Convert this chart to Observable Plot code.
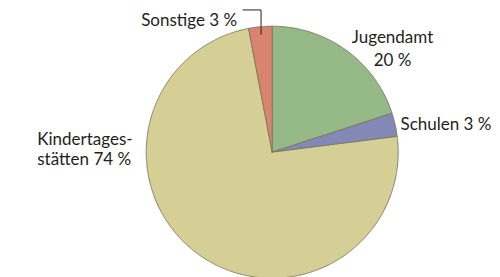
<!DOCTYPE html>
<html>
<head>
<meta charset="utf-8">
<script src="https://cdn.jsdelivr.net/npm/d3@7"></script>
<script src="https://cdn.jsdelivr.net/npm/@observablehq/plot@0.6"></script>
<style>
  html, body { margin: 0; padding: 0; background: #fff; }
  #chart svg { display: block; }
</style>
</head>
<body>
<div id="chart"></div>
<script>
// ---- data ----
const categories = ["Jugendamt", "Schulen", "Kindertagesstätten", "Sonstige"];
const shares = [20, 3, 74, 3];
const labelTexts = ["Jugendamt\n20 %", "Schulen 3 %", "Kindertages-\nstätten 74 %", "Sonstige 3 %"];

// ---- style / layout ----
const colors = ["#94b886", "#8289b6", "#d5cf96", "#d9846f"];
const W = 500, H = 277;
const R = 126, CX = 271.7, CY = 151.7;           // pie geometry in pixels
const labelLayout = [                              // label anchor in pie-radius units
  {u: 0.955, v: 0.688, anchor: "middle", lh: 1.31},
  {u: 1.018, v: 0.178, anchor: "start", lh: 1.2},
  {u: -1.865, v: -0.103, anchor: "start", lh: 1.2},
  {u: -0.278, v: 1.0, anchor: "end", lh: 1.2}
];

// ---- build slices with d3.pie (clockwise from 12 o'clock) ----
const arcs = d3.pie().sort(null).value(d => d.share)(
  categories.map((c, i) => ({category: c, share: shares[i]}))
);
const slicePts = [];
for (const a of arcs) {
  const name = a.data.category;
  slicePts.push({category: name, u: 0, v: 0});
  const n = Math.max(2, Math.ceil((a.endAngle - a.startAngle) / (Math.PI / 360)));
  for (let k = 0; k <= n; k++) {
    const t = a.startAngle + (a.endAngle - a.startAngle) * k / n;
    slicePts.push({category: name, u: Math.sin(t), v: Math.cos(t)});
  }
  slicePts.push({category: name, u: 0, v: 0});
}

const labels = categories.map((c, i) => ({
  text: labelTexts[i], ...labelLayout[i]
}));

// leader line for "Sonstige": from inside slice (mid-angle) up, then left
const sonst = arcs[3];
const mid = (sonst.startAngle + sonst.endAngle) / 2;
const lx = 0.94 * Math.sin(mid);
const leader = [
  {u: -0.232, v: 1.129},
  {u: lx, v: 1.129},
  {u: lx, v: 0.94 * Math.cos(mid)}
];

const textFont = "Lato, 'Liberation Sans', sans-serif";

const chart = Plot.plot({
  width: W,
  height: H,
  margin: 0,
  x: {domain: [-CX / R, (W - CX) / R], axis: null},
  y: {domain: [(CY - H) / R, CY / R], axis: null},
  color: {domain: categories, range: colors},
  style: {fontFamily: textFont, background: "#fff"},
  marks: [
    Plot.line(slicePts, {
      x: "u", y: "v", z: "category", fill: "category",
      stroke: "#7c775f", strokeWidth: 0.9, strokeLinejoin: "round", curve: "linear"
    }),
    Plot.line(leader, {x: "u", y: "v", stroke: "#231f20", strokeWidth: 1}),
    ...labels.map(d =>
      Plot.text([d], {
        x: "u", y: "v", text: "text",
        textAnchor: d.anchor, lineAnchor: "bottom",
        lineHeight: d.lh,
        fontSize: 17, fill: "#231f20"
      })
    )
  ]
});
document.getElementById("chart").appendChild(chart);
</script>
</body>
</html>
